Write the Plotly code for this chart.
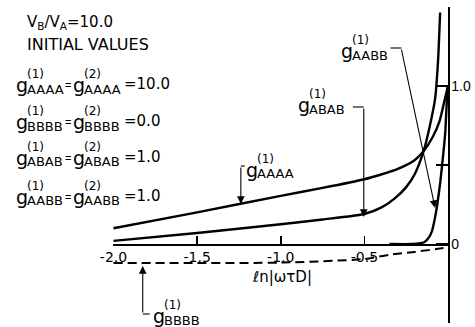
import plotly.graph_objects as go

# ---------------- data ----------------
x_aaaa = [-2.0, -1.5, -1.0, -0.75, -0.5, -0.4, -0.3, -0.2, -0.144, -0.09, -0.05, -0.018, 0.0]
g_aaaa = [0.10, 0.20, 0.305, 0.355, 0.41, 0.44, 0.475, 0.53, 0.59, 0.68, 0.78, 0.92, 1.0]

x_abab = [-2.0, -1.5, -1.0, -0.75, -0.5, -0.4, -0.32, -0.25, -0.2, -0.144, -0.11, -0.077, -0.06, -0.047]
g_abab = [0.02, 0.07, 0.125, 0.155, 0.19, 0.23, 0.287, 0.36, 0.44, 0.594, 0.74, 0.92, 1.15, 1.465]

x_aabb = [-0.35, -0.213, -0.142, -0.112, -0.095, -0.079, -0.065, -0.046, -0.025, -0.016, -0.006, 0.0]
g_aabb = [0.0, 0.0, 0.011, 0.045, 0.085, 0.16, 0.244, 0.393, 0.605, 0.711, 0.924, 1.0]

x_bbbb = [-2.0, -1.5, -1.0, -0.5, -0.35, -0.2, -0.03, 0.0]
g_bbbb = [-0.12, -0.12, -0.118, -0.095, -0.068, -0.05, -0.025, -0.015]

x_ticks = [-2.0, -1.5, -1.0, -0.5]
x_tick_labels = ["-2.0", "-1.5", "-1.0", "-0.5"]
y_ticks = [-0.5, 0.0, 0.5, 1.0, 1.5]
y_tick_labels = ["", "0", "", "1.0", ""]

x_title = "ℓn|ωτD|"
ratio_text = "V<sub>B</sub>/V<sub>A</sub>=10.0"
initial_text = "INITIAL VALUES"
species = ["AAAA", "BBBB", "ABAB", "AABB"]
initial_values = ["10.0", "0.0", "1.0", "1.0"]

# ---------------- layout geometry ----------------
WIDTH, HEIGHT = 475, 327
L, R, T, B = 113, 24, 7, 4
PW, PH = WIDTH - L - R, HEIGHT - T - B
FONT = "DejaVu Sans"


def px(xp):
    return (xp - L) / PW


def py(yp):
    return (T + PH - yp) / PH


fig = go.Figure()

fig.add_trace(go.Scatter(x=x_aaaa, y=g_aaaa, mode="lines", hoverinfo="skip",
                         line=dict(color="black", width=2.4, shape="spline", smoothing=0.6)))
fig.add_trace(go.Scatter(x=x_abab, y=g_abab, mode="lines", hoverinfo="skip",
                         line=dict(color="black", width=2.4, shape="spline", smoothing=0.6)))
fig.add_trace(go.Scatter(x=x_aabb, y=g_aabb, mode="lines", hoverinfo="skip",
                         line=dict(color="black", width=2.4, shape="spline", smoothing=0.5)))
fig.add_trace(go.Scatter(x=x_bbbb, y=g_bbbb, mode="lines", hoverinfo="skip",
                         line=dict(color="black", width=2.0, dash="9px,5px", shape="spline", smoothing=0.6)))

annotations = []
shapes = []


def text(xp, yp, s, size, anchor="left", family=FONT):
    annotations.append(dict(x=px(xp), y=py(yp), xref="paper", yref="paper", text=s,
                            showarrow=False, xanchor=anchor, yanchor="middle", borderpad=0,
                            font=dict(family=family, size=size, color="black")))


def gterm(xg, ysub, sup, sub):
    text(xg - 1, ysub - 4, "g", 19)
    text(xg + 10, ysub - 15, sup, 12)
    text(xg + 10, ysub, sub, 13)


# header text
text(25, 22, ratio_text, 15)
text(25, 45, initial_text, 16)

# initial-value equations
line_y = [89, 126, 162, 201]
for sp, val, ys in zip(species, initial_values, line_y):
    gterm(15, ys, "(1)", sp)
    text(64, ys - 4, "=", 11, family="Liberation Sans")
    gterm(73, ys, "(2)", sp)
    text(123, ys - 5, "=" + val, 15)

# curve labels
gterm(343, 55, "(1)", "AABB")
gterm(300, 109, "(1)", "ABAB")
gterm(247, 174, "(1)", "AAAA")
gterm(153, 320, "(1)", "BBBB")

# x-axis title
text(284, 277, x_title, 15, anchor="center")


def seg(x0, y0, x1, y1):
    shapes.append(dict(type="line", xref="paper", yref="paper",
                       x0=px(x0), y0=py(y0), x1=px(x1), y1=py(y1),
                       line=dict(color="black", width=1.1)))


def arrow(xs, ys, xt, yt):
    annotations.append(dict(x=px(xt), y=py(yt), xref="paper", yref="paper", text="",
                            showarrow=True, ax=xs - xt, ay=ys - yt,
                            arrowhead=2, arrowsize=1.4, arrowwidth=1.1, arrowcolor="black",
                            standoff=0, startstandoff=0))


# leader lines
seg(393, 48, 404, 48)
arrow(404, 48, 438, 208)
seg(355, 107, 366, 107)
arrow(366, 107, 366, 217)
seg(242, 166, 246, 166)
arrow(242, 166, 242, 204)
seg(143, 314, 150, 314)
arrow(143, 314, 143, 266)

fig.update_layout(
    width=WIDTH, height=HEIGHT,
    margin=dict(l=L, r=R, t=T, b=B, pad=0),
    paper_bgcolor="white", plot_bgcolor="white",
    showlegend=False, hovermode=False,
    font=dict(family=FONT, size=14, color="black"),
    annotations=annotations, shapes=shapes,
    xaxis=dict(range=[-2.003, 0.0], anchor="free", position=0.25,
               showgrid=False, zeroline=False, showline=True, linecolor="black", linewidth=1.5,
               ticks="inside", ticklen=8, tickwidth=1.5, tickcolor="black",
               tickvals=x_ticks, ticktext=x_tick_labels,
               tickfont=dict(family=FONT, size=14, color="black")),
    yaxis=dict(range=[-0.5, 1.5], side="right", anchor="x",
               showgrid=False, zeroline=False, showline=True, linecolor="black", linewidth=1.5,
               ticks="inside", ticklen=12, tickwidth=1.5, tickcolor="black",
               tickvals=y_ticks, ticktext=y_tick_labels, ticklabelstandoff=-1,
               tickfont=dict(family="Liberation Sans", size=14, color="black")),
)

fig.write_html("out.html", config={"displayModeBar": False, "staticPlot": True},
               post_script="document.body.style.margin='0px';document.body.style.overflow='hidden';")
